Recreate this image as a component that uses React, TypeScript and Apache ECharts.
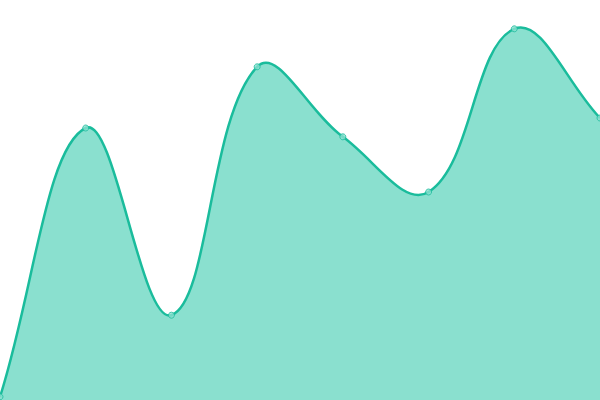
import { useEffect, useRef } from 'react';
import * as echarts from 'echarts';

const categories = ['A', 'B', 'C', 'D', 'E', 'F', 'G', 'H'];
const values = [0.8, 68, 21.2, 83.3, 65.8, 52, 92.8, 70.5];

const lineColor = '#1abc9c';
const areaColor = '#8ae0cf';
const tension = 0.4;

// cardinal-style spline (control points from neighbour distances)
function splinePath(pts: number[][]) {
  const n = pts.length;
  const cps: { prev: number[]; next: number[] }[] = [];
  for (let i = 0; i < n; i++) {
    const cur = pts[i];
    const prev = pts[i - 1] || cur;
    const next = pts[i + 1] || cur;
    const d01 = Math.hypot(cur[0] - prev[0], cur[1] - prev[1]);
    const d12 = Math.hypot(next[0] - cur[0], next[1] - cur[1]);
    let s01 = d01 / (d01 + d12);
    let s12 = d12 / (d01 + d12);
    if (isNaN(s01)) s01 = 0;
    if (isNaN(s12)) s12 = 0;
    const fa = tension * s01;
    const fb = tension * s12;
    cps.push({
      prev: [cur[0] - fa * (next[0] - prev[0]), cur[1] - fa * (next[1] - prev[1])],
      next: [cur[0] + fb * (next[0] - prev[0]), cur[1] + fb * (next[1] - prev[1])],
    });
  }
  let d = `M${pts[0][0]},${pts[0][1]}`;
  for (let i = 1; i < n; i++) {
    const a = cps[i - 1].next;
    const b = cps[i].prev;
    d += ` C${a[0]},${a[1]} ${b[0]},${b[1]} ${pts[i][0]},${pts[i][1]}`;
  }
  return d;
}

function App() {
  const chartRef = useRef<HTMLDivElement>(null);

  useEffect(() => {
    if (!chartRef.current) return;
    const chart = echarts.init(chartRef.current, undefined, { renderer: 'svg' });
    chart.setOption({
      animation: false,
      grid: { left: 0, right: 0, top: 0, bottom: 0 },
      xAxis: {
        type: 'category',
        data: categories,
        boundaryGap: false,
        show: false,
      },
      yAxis: { type: 'value', min: 0, max: 100, show: false },
      series: [
        {
          type: 'custom',
          data: values.map((v, i) => [i, v]),
          renderItem: (params: any, api: any) => {
            if (params.dataIndex !== 0) return null;
            const pts = values.map((v, i) => api.coord([i, v]));
            const line = splinePath(pts);
            const bottom = params.coordSys.y + params.coordSys.height;
            const area =
              line +
              ` L${pts[pts.length - 1][0]},${bottom} L${pts[0][0]},${bottom} Z`;
            return {
              type: 'group',
              children: [
                {
                  type: 'path',
                  shape: { pathData: area },
                  style: { fill: areaColor, stroke: 'none' },
                },
                {
                  type: 'path',
                  shape: { pathData: line },
                  style: { fill: 'none', stroke: lineColor, lineWidth: 2.5 },
                },
              ],
            };
          },
        },
        {
          type: 'scatter',
          data: values,
          symbol: 'circle',
          symbolSize: 6,
          itemStyle: { color: areaColor, borderColor: lineColor, borderWidth: 1 },
        },
      ],
    });
    return () => chart.dispose();
  }, []);

  return (
    <div
      ref={chartRef}
      style={{ position: 'fixed', left: 0, top: 0, width: '600px', height: '400px' }}
    />
  );
}

export default App;
